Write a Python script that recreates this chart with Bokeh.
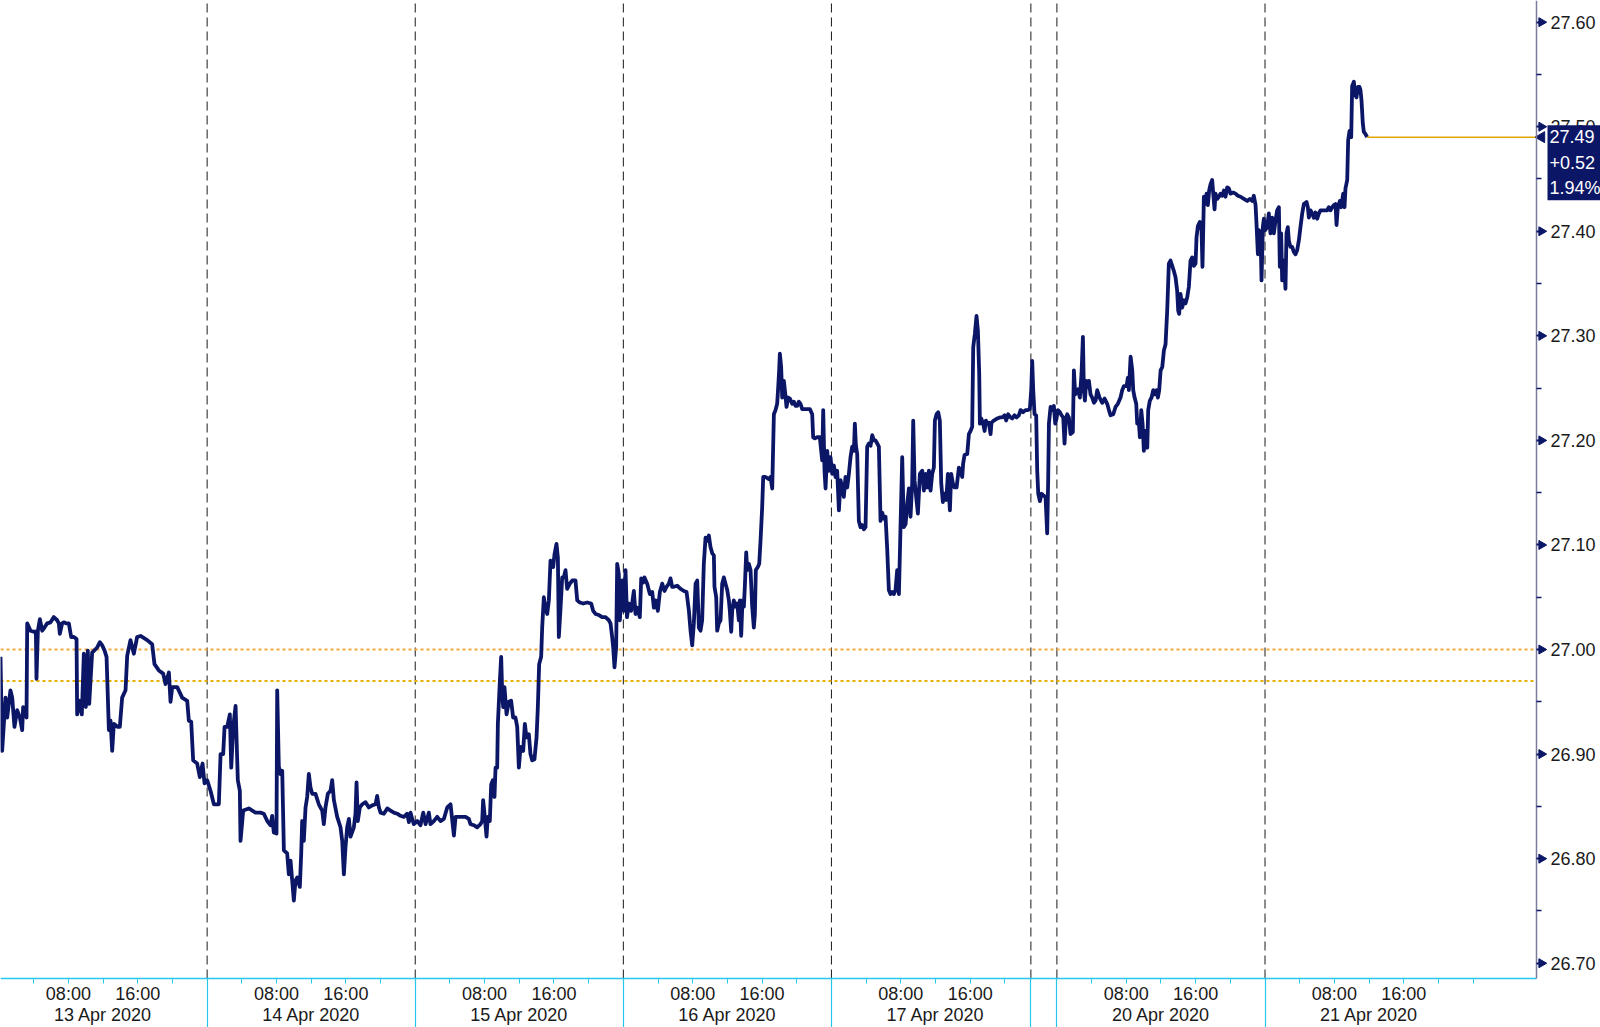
import math
from bokeh.plotting import figure
from bokeh.models import Range1d, LinearAxis, FixedTicker, Label, PrintfTickFormatter
from bokeh.embed import file_html
from bokeh.resources import INLINE

# ---- data: (session hours since 13 Apr 00:00, weekend compressed ; price) ----
apr13 = [(0.17,26.993),(0.36,26.903),(0.75,26.954),(0.94,26.935),(1.32,26.961),(1.52,26.954),(1.78,26.926),(2.09,26.942),(2.40,26.935),(2.67,26.923),(2.78,26.945),(3.17,26.935),(3.25,27.025),(3.63,27.018),(4.01,27.017),(4.25,27.017),(4.32,26.972),(4.48,27.018),(4.71,27.029),(4.98,27.018),(5.24,27.021),(5.55,27.025),(5.94,27.026),(6.32,27.031),(6.71,27.028),(6.90,27.025),(7.01,27.015),(7.28,27.025),(7.47,27.026),(7.78,27.025),(8.05,27.025),(8.32,27.012),(8.63,27.012),(8.94,27.010),(9.01,26.938),(9.32,26.951),(9.55,26.938),(9.78,26.996),(10.01,26.945),(10.24,26.999),(10.40,26.948),(10.74,26.997),(11.32,27.002),(11.63,27.007),(11.90,27.004),(12.17,26.999),(12.40,26.993),(12.67,26.923),(12.86,26.932),(13.05,26.903),(13.24,26.929),(13.70,26.926),(13.93,26.926),(14.20,26.954),(14.59,26.961),(14.78,26.994),(15.16,27.009),(15.55,26.996),(15.93,27.012),(16.32,27.013),(17.09,27.009),(17.66,27.005),(17.93,26.986),(18.43,26.980),(18.93,26.977),(19.20,26.967),(19.59,26.978),(19.78,26.950),(19.97,26.964),(20.55,26.964),(21.12,26.954),(21.70,26.951),(21.89,26.932),(22.16,26.931),(22.39,26.894),(22.85,26.891),(23.16,26.878),(23.47,26.891),(23.70,26.872)]
apr14 = [(24.01,26.875),(24.39,26.865),(24.78,26.852),(25.35,26.852),(25.55,26.900),(25.85,26.900),(26.01,26.926),(26.31,26.926),(26.62,26.938),(26.78,26.887),(27.01,26.926),(27.28,26.946),(27.54,26.875),(27.77,26.865),(27.85,26.817),(28.16,26.846),(28.81,26.848),(29.58,26.844),(30.16,26.844),(30.54,26.843),(30.93,26.836),(31.31,26.832),(31.50,26.841),(31.69,26.825),(32.00,26.824),(32.08,26.961),(32.27,26.888),(32.46,26.881),(32.66,26.884),(32.85,26.808),(33.23,26.805),(33.42,26.785),(33.62,26.798),(33.81,26.779),(34.00,26.760),(34.19,26.779),(34.39,26.782),(34.69,26.773),(34.85,26.805),(34.96,26.836),(35.15,26.817),(35.35,26.849),(35.54,26.859),(35.73,26.881),(35.92,26.868),(36.12,26.862),(36.50,26.862),(36.88,26.852),(37.27,26.846),(37.46,26.833),(37.65,26.849),(37.92,26.862),(38.23,26.865),(38.42,26.875),(38.62,26.856),(39.00,26.840),(39.38,26.830),(39.58,26.817),(39.77,26.785),(39.96,26.811),(40.15,26.830),(40.35,26.838),(40.54,26.821),(40.92,26.830),(41.11,26.843),(41.23,26.873),(41.38,26.836),(41.61,26.849),(41.88,26.852),(42.27,26.854),(42.65,26.849),(43.04,26.851),(43.42,26.852),(43.61,26.860),(43.81,26.849),(44.00,26.844),(44.38,26.843),(44.77,26.848),(45.15,26.846),(45.54,26.844),(45.92,26.843),(46.30,26.841),(46.69,26.840),(47.07,26.843),(47.27,26.835),(47.46,26.844),(47.65,26.838),(47.84,26.833)]
apr15 = [(48.23,26.836),(48.61,26.832),(48.92,26.844),(49.19,26.833),(49.57,26.844),(49.76,26.833),(50.15,26.836),(50.53,26.840),(50.92,26.836),(51.30,26.838),(51.69,26.849),(52.07,26.852),(52.46,26.822),(52.65,26.840),(53.22,26.840),(53.80,26.840),(54.18,26.838),(54.37,26.833),(54.76,26.832),(55.14,26.830),(55.53,26.833),(55.72,26.836),(55.83,26.856),(55.99,26.843),(56.22,26.821),(56.37,26.840),(56.60,26.836),(56.76,26.871),(56.95,26.875),(57.14,26.859),(57.26,26.887),(57.45,26.887),(57.53,26.929),(57.76,26.970),(57.91,26.993),(58.03,26.958),(58.14,26.945),(58.29,26.964),(58.53,26.938),(58.79,26.950),(59.06,26.951),(59.29,26.935),(59.56,26.935),(59.76,26.926),(59.95,26.887),(60.14,26.907),(60.45,26.903),(60.64,26.929),(60.83,26.916),(61.10,26.919),(61.29,26.900),(61.49,26.894),(61.75,26.895),(61.99,26.916),(62.14,26.945),(62.29,26.986),(62.52,26.993),(62.64,27.021),(62.83,27.050),(63.02,27.040),(63.22,27.034),(63.41,27.047),(63.60,27.085),(63.91,27.079),(64.06,27.091),(64.29,27.101),(64.45,27.088),(64.56,27.012),(64.76,27.040),(64.95,27.069),(65.14,27.069),(65.33,27.076),(65.52,27.058),(65.83,27.063),(66.10,27.066),(66.48,27.066),(66.68,27.047),(66.98,27.045),(67.37,27.044),(67.83,27.045),(68.29,27.044),(68.52,27.037),(68.79,27.034),(69.18,27.033),(69.56,27.031),(69.94,27.031),(70.33,27.028),(70.52,27.025),(70.71,27.012),(70.83,27.002),(70.98,26.983),(71.17,27.002),(71.29,27.082),(71.48,27.072),(71.60,27.028),(71.75,27.050),(71.87,27.066)]
apr16 = [(72.06,27.037),(72.25,27.076),(72.42,27.031),(72.64,27.044),(72.90,27.037),(73.21,27.056),(73.40,27.034),(73.60,27.040),(73.90,27.031),(74.06,27.068),(74.29,27.064),(74.44,27.069),(74.75,27.063),(75.06,27.053),(75.33,27.055),(75.52,27.040),(75.71,27.047),(75.98,27.037),(76.21,27.055),(76.48,27.063),(76.75,27.056),(76.98,27.060),(77.25,27.063),(77.44,27.068),(77.63,27.060),(77.83,27.060),(78.21,27.061),(78.60,27.058),(78.98,27.056),(79.29,27.055),(79.56,27.037),(79.75,27.018),(79.94,27.004),(80.13,27.025),(80.33,27.063),(80.52,27.066),(80.71,27.021),(80.90,27.018),(81.09,27.028),(81.28,27.082),(81.48,27.107),(81.67,27.104),(81.86,27.109),(82.05,27.098),(82.25,27.092),(82.44,27.090),(82.51,27.060),(82.71,27.050),(82.82,27.018),(83.01,27.025),(83.21,27.028),(83.40,27.063),(83.59,27.069),(83.78,27.063),(83.98,27.057),(84.17,27.047),(84.28,27.037),(84.44,27.017),(84.55,27.037),(84.74,27.047),(84.94,27.041),(85.13,27.044),(85.32,27.028),(85.44,27.047),(85.59,27.013),(85.74,27.047),(85.90,27.041),(86.01,27.060),(86.17,27.093),(86.28,27.076),(86.47,27.082),(86.67,27.076),(86.86,27.041),(87.05,27.021),(87.17,27.034),(87.28,27.076),(87.51,27.079),(87.67,27.082),(87.82,27.104),(88.01,27.136),(88.13,27.165),(88.40,27.165),(88.78,27.163),(88.97,27.165),(89.17,27.154),(89.36,27.225),(89.55,27.229),(89.74,27.235),(89.86,27.251),(89.97,27.267),(90.05,27.283),(90.20,27.270),(90.32,27.241),(90.51,27.257),(90.63,27.248),(90.82,27.232),(91.01,27.241),(91.20,27.240),(91.47,27.235),(91.67,27.237),(91.86,27.233),(92.05,27.233),(92.24,27.237),(92.43,27.235),(92.63,27.230),(92.90,27.230),(93.20,27.230),(93.51,27.230),(93.78,27.225),(93.89,27.203),(94.09,27.202),(94.36,27.203),(94.66,27.203),(94.93,27.181),(95.05,27.229),(95.20,27.171),(95.32,27.154),(95.51,27.190),(95.70,27.171),(95.89,27.184)]
apr17 = [(96.09,27.168),(96.28,27.176),(96.47,27.165),(96.66,27.171),(96.86,27.133),(97.05,27.162),(97.24,27.155),(97.43,27.146),(97.62,27.165),(97.82,27.155),(98.01,27.168),(98.20,27.184),(98.39,27.194),(98.59,27.190),(98.70,27.216),(98.82,27.195),(98.97,27.187),(99.16,27.123),(99.35,27.117),(99.55,27.119),(99.74,27.115),(99.93,27.117),(100.12,27.194),(100.32,27.197),(100.51,27.195),(100.70,27.205),(100.89,27.200),(101.08,27.200),(101.28,27.197),(101.47,27.194),(101.66,27.123),(101.85,27.131),(102.05,27.125),(102.24,27.127),(102.43,27.096),(102.62,27.057),(102.81,27.053),(103.01,27.055),(103.20,27.053),(103.39,27.057),(103.58,27.076),(103.78,27.053),(103.97,27.119),(104.16,27.184),(104.35,27.117),(104.55,27.120),(104.74,27.139),(104.93,27.154),(105.12,27.127),(105.31,27.159),(105.43,27.219),(105.58,27.162),(105.81,27.143),(105.97,27.130),(106.20,27.168),(106.47,27.171),(106.66,27.152),(106.85,27.168),(107.04,27.155),(107.24,27.171),(107.43,27.152),(107.62,27.168),(107.81,27.174),(107.93,27.219),(108.12,27.225),(108.31,27.227),(108.50,27.219),(108.66,27.159),(108.85,27.141),(109.04,27.149),(109.24,27.143),(109.43,27.168),(109.66,27.133),(109.81,27.168),(110.00,27.159),(110.20,27.155),(110.43,27.155),(110.70,27.174),(110.89,27.170),(111.08,27.165),(111.19,27.178),(111.35,27.186),(111.66,27.187),(111.85,27.206),(112.04,27.209),(112.23,27.213),(112.35,27.289),(112.54,27.302),(112.73,27.319),(112.89,27.305),(113.04,27.264),(113.12,27.216),(113.27,27.221),(113.50,27.216),(113.66,27.209),(113.81,27.219),(113.96,27.216),(114.15,27.217),(114.35,27.206),(114.46,27.217),(114.73,27.219),(115.12,27.221),(115.42,27.222),(115.69,27.222),(115.96,27.224),(116.15,27.219),(116.38,27.225),(116.65,27.222),(116.85,27.221),(117.11,27.224),(117.35,27.222),(117.61,27.224),(117.81,27.229),(118.11,27.227),(118.38,27.229),(118.65,27.229),(118.88,27.230)]
apr19 = [(119.04,27.248),(119.15,27.276),(119.27,27.248),(119.42,27.225),(119.61,27.224),(119.73,27.171),(119.85,27.149),(120.04,27.142),(120.23,27.149),(120.50,27.147),(120.69,27.146),(120.88,27.111),(121.00,27.165),(121.08,27.216),(121.27,27.232),(121.46,27.229),(121.65,27.233),(121.81,27.216),(121.96,27.221)]
apr20 = [(122.11,27.229),(122.34,27.227),(122.54,27.224),(122.73,27.222),(122.88,27.197),(123.04,27.221),(123.19,27.225),(123.38,27.222),(123.57,27.206),(123.84,27.208),(123.96,27.267),(124.11,27.244),(124.27,27.248),(124.42,27.249),(124.65,27.241),(124.84,27.264),(125.00,27.299),(125.11,27.248),(125.23,27.238),(125.38,27.257),(125.54,27.251),(125.69,27.257),(125.88,27.244),(126.07,27.241),(126.27,27.236),(126.46,27.238),(126.65,27.248),(126.92,27.241),(127.23,27.236),(127.50,27.240),(127.80,27.235),(128.00,27.229),(128.19,27.224),(128.50,27.225),(128.76,27.232),(129.03,27.235),(129.34,27.241),(129.53,27.248),(129.73,27.252),(130.03,27.252),(130.19,27.260),(130.30,27.248),(130.50,27.280),(130.69,27.267),(130.80,27.248),(130.96,27.241),(131.15,27.235),(131.26,27.216),(131.46,27.216),(131.57,27.203),(131.73,27.229),(131.88,27.216),(132.03,27.190),(132.22,27.209),(132.42,27.193),(132.53,27.229),(132.72,27.238),(132.92,27.241),(133.11,27.248),(133.30,27.244),(133.49,27.248),(133.65,27.241),(133.80,27.248),(133.96,27.267),(134.15,27.270),(134.34,27.286),(134.53,27.292),(134.72,27.324),(134.91,27.369),(135.10,27.372),(135.30,27.367),(135.49,27.362),(135.68,27.356),(135.87,27.343),(135.99,27.324),(136.10,27.321),(136.26,27.340),(136.45,27.327),(136.64,27.334),(136.83,27.331),(137.03,27.337),(137.22,27.347),(137.41,27.372),(137.60,27.375),(137.80,27.367),(137.99,27.369),(138.10,27.394),(138.26,27.405),(138.49,27.409),(138.68,27.401),(138.79,27.366),(138.95,27.433),(139.10,27.426),(139.26,27.436),(139.41,27.425),(139.56,27.439),(139.72,27.445),(139.91,27.449),(140.02,27.437),(140.18,27.421),(140.29,27.436),(140.49,27.431),(140.68,27.433),(140.87,27.436),(141.06,27.434),(141.26,27.439),(141.45,27.433),(141.64,27.442),(141.83,27.441),(142.02,27.436),(142.33,27.437),(142.60,27.436),(142.87,27.434),(143.18,27.433),(143.56,27.431),(143.95,27.429),(144.25,27.431),(144.52,27.429),(144.71,27.434),(144.91,27.425),(145.02,27.407),(145.18,27.378),(145.29,27.401),(145.48,27.398),(145.60,27.353),(145.75,27.404),(145.87,27.412)]
apr21 = [(146.02,27.401),(146.25,27.404),(146.44,27.417),(146.63,27.398),(146.83,27.413),(147.02,27.398),(147.21,27.410),(147.40,27.420),(147.60,27.423),(147.71,27.366),(147.86,27.398),(147.98,27.353),(148.17,27.372),(148.36,27.345),(148.48,27.398),(148.63,27.404),(148.75,27.391),(148.94,27.385),(149.13,27.385),(149.33,27.380),(149.52,27.378),(149.71,27.382),(149.90,27.391),(150.09,27.404),(150.29,27.417),(150.48,27.426),(150.79,27.428),(150.94,27.423),(151.06,27.413),(151.25,27.420),(151.44,27.417),(151.63,27.413),(151.82,27.418),(152.02,27.412),(152.21,27.417),(152.40,27.420),(152.79,27.420),(153.17,27.420),(153.36,27.423),(153.55,27.420),(153.75,27.423),(153.94,27.425),(154.13,27.426),(154.25,27.406),(154.40,27.423),(154.63,27.429),(154.78,27.423),(155.02,27.436),(155.17,27.423),(155.28,27.441),(155.48,27.449),(155.59,27.487),(155.75,27.496),(155.94,27.490),(156.05,27.539),(156.25,27.543),(156.36,27.531),(156.55,27.528),(156.71,27.538),(156.90,27.538),(157.01,27.535),(157.13,27.525),(157.28,27.503),(157.40,27.495),(157.59,27.493),(157.78,27.490)]

session_breaks = [24, 48, 72, 96, 119, 122, 146]
day_starts = [0, 24, 48, 72, 96, 122, 146]
day_labels = ["13 Apr 2020", "14 Apr 2020", "15 Apr 2020", "16 Apr 2020", "17 Apr 2020", "20 Apr 2020", "21 Apr 2020"]
next_day_start = 170
tick_hours = [4, 8, 12, 16, 20]
hour_labels = {8: "08:00", 16: "16:00"}
y_ticks = [26.70, 26.80, 26.90, 27.00, 27.10, 27.20, 27.30, 27.40, 27.50, 27.60]
y_minor = [26.75, 26.85, 26.95, 27.05, 27.15, 27.25, 27.35, 27.45, 27.55]
ref_levels = [27.00, 26.97]
ref_colors = ["#f5a83c", "#e8b000"]
box_lines = ["27.49", "+0.52", "1.94%"]

pairs = apr13 + apr14 + apr15 + apr16 + apr17 + apr19 + apr20 + apr21
hours = [a for a, b in pairs]
prices = [b for a, b in pairs]

# ---- layout: one frame covering the whole canvas, axes pinned with fixed_location ----
W, H = 1600, 1027
PLOT_W, PLOT_H = 1536, 978           # pixel size of the data area inside the canvas
T0, T_AXIS = 0.17, 177.31            # time at left edge / at the price axis
P_AXIS, P_TOP = 26.6854, 27.6207     # price at the time axis / at the top edge
px_h = PLOT_W / (T_AXIS - T0)
px_p = PLOT_H / (P_TOP - P_AXIS)
X_END = T0 + W / px_h
Y_BOT = P_AXIS - (H - PLOT_H) / px_p

FONT = "Liberation Sans"
NAVY = "#0b1766"
CYAN = "#27c6ef"

p = figure(width=W, height=H, x_range=Range1d(T0, X_END), y_range=Range1d(Y_BOT, P_TOP),
           x_axis_location=None, y_axis_location=None,
           output_backend="svg", toolbar_location=None,
           min_border_left=0, min_border_top=0, min_border_right=0, min_border_bottom=0)
p.outline_line_color = None
p.grid.visible = False
p.background_fill_color = "white"
p.border_fill_color = "white"

# session separators (dashed, above the time axis)
p.segment(x0=session_breaks, y0=[P_AXIS] * len(session_breaks),
          x1=session_breaks, y1=[P_TOP] * len(session_breaks),
          line_color="#1a1a1a", line_width=1, line_dash="9 5")

# reference levels (dotted)
for lvl, col in zip(ref_levels, ref_colors):
    p.segment(x0=[T0], y0=[lvl], x1=[T_AXIS], y1=[lvl], line_color=col,
              line_width=2, line_dash="3 3")

# price line
p.line(hours, prices, line_color=NAVY, line_width=3.8, line_join="round")

# last price line
p.segment(x0=[hours[-1]], y0=[prices[-1]], x1=[T_AXIS], y1=[prices[-1]],
          line_color="#e0a800", line_width=1.5)

# right price axis
ya = LinearAxis(fixed_location=T_AXIS, bounds=(P_AXIS, P_TOP))
ya.ticker = FixedTicker(ticks=y_ticks, minor_ticks=y_minor)
ya.formatter = PrintfTickFormatter(format="%.2f")
ya.axis_line_color = "#7c7c9c"
ya.axis_line_width = 1.5
ya.major_tick_line_color = NAVY
ya.major_tick_line_width = 2
ya.major_tick_out = 8
ya.major_tick_in = 0
ya.minor_tick_line_color = NAVY
ya.minor_tick_line_width = 1.5
ya.minor_tick_out = 5
ya.minor_tick_in = 0
ya.major_label_standoff = 6
ya.major_label_text_font = FONT
ya.major_label_text_font_size = "18px"
ya.major_label_text_color = "#1a1a1a"
p.add_layout(ya, "right")

# tick pointers on the price axis
p.scatter(x=[T_AXIS + 5 / px_h] * len(y_ticks), y=y_ticks, marker="triangle", size=9,
          angle=-math.pi / 2, fill_color=NAVY, line_color=NAVY)

# time axis (hours of day)
major_x = [d + h for d in day_starts for h in tick_hours] + [next_day_start]
overrides = {}
for d in day_starts:
    for h in tick_hours:
        overrides[d + h] = hour_labels.get(h, "")
overrides[next_day_start] = ""
xa = LinearAxis(fixed_location=P_AXIS, bounds=(T0, T_AXIS))
xa.ticker = FixedTicker(ticks=major_x)
xa.major_label_overrides = overrides
xa.axis_line_color = CYAN
xa.axis_line_width = 1.5
xa.major_tick_line_color = CYAN
xa.major_tick_out = 5
xa.major_tick_in = 0
xa.minor_tick_line_color = None
xa.major_label_standoff = 0
xa.major_label_text_font = FONT
xa.major_label_text_font_size = "18px"
xa.major_label_text_color = "#1a1a1a"
p.add_layout(xa, "below")

# date axis
xb = LinearAxis(fixed_location=P_AXIS, bounds=(T0, T_AXIS),
                ticker=FixedTicker(ticks=[d + 12 for d in day_starts]),
                major_label_overrides={d + 12: lab for d, lab in zip(day_starts, day_labels)})
xb.axis_line_color = None
xb.major_tick_line_color = None
xb.minor_tick_line_color = None
xb.major_tick_out = 0
xb.major_tick_in = 0
xb.major_label_standoff = 26
xb.major_label_text_font = FONT
xb.major_label_text_font_size = "18px"
xb.major_label_text_color = "#1a1a1a"
p.add_layout(xb, "below")

# session-break marks below the time axis
xc = LinearAxis(fixed_location=P_AXIS, bounds=(T0, T_AXIS),
                ticker=FixedTicker(ticks=session_breaks),
                major_label_overrides={b: "" for b in session_breaks})
xc.axis_line_color = None
xc.major_tick_line_color = CYAN
xc.major_tick_line_width = 1.2
xc.major_tick_in = 0
xc.major_tick_out = H - PLOT_H
xc.minor_tick_line_color = None
xc.major_label_standoff = 0
xc.major_label_text_font_size = "1px"
p.add_layout(xc, "below")

# last price box with pointer
p.scatter(x=[T_AXIS + 5 / px_h], y=[prices[-1]], marker="triangle", size=11,
          angle=math.pi / 2, fill_color=NAVY, line_color=NAVY)
box = Label(x=T_AXIS + 11 / px_h, y=prices[-1], text="\n".join(box_lines),
            text_font=FONT, text_font_size="18px", text_color="white",
            text_align="left", text_baseline="top", y_offset=12,
            background_fill_color=NAVY, padding=2, text_line_height=1.28)
p.add_layout(box)

open("out.html", "w").write(file_html(p, INLINE))
